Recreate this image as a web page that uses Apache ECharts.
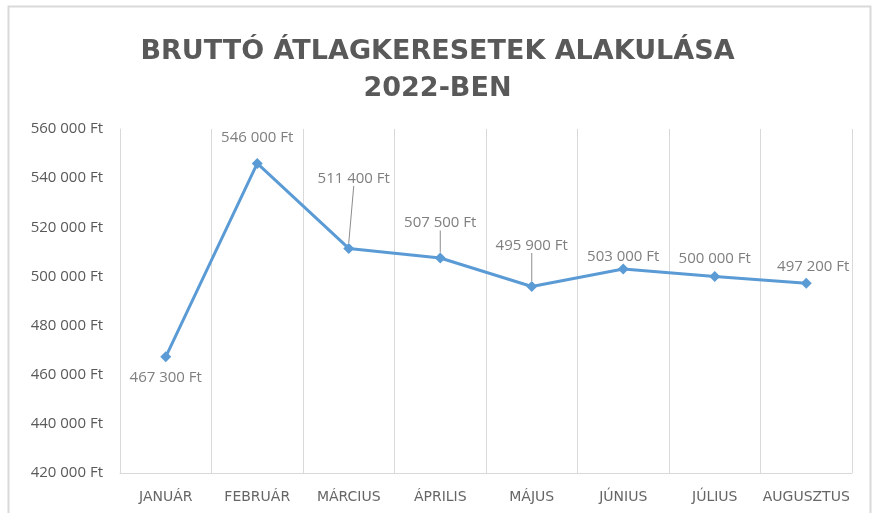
<!DOCTYPE html>
<html>
<head>
<meta charset="utf-8">
<script src="https://cdn.jsdelivr.net/npm/echarts@6/dist/echarts.min.js"></script>
<style>
  html, body { margin: 0; padding: 0; background: #fff; }
  #chart { width: 875px; height: 513px; }
</style>
</head>
<body>
<div id="chart"></div>
<script>
// adatok
const months = ['JANUÁR', 'FEBRUÁR', 'MÁRCIUS', 'ÁPRILIS', 'MÁJUS', 'JÚNIUS', 'JÚLIUS', 'AUGUSZTUS'];
const salaries = [467300, 546000, 511400, 507500, 495900, 503000, 500000, 497200];
// label shift from the point (dx, dy) and whether a leader line is drawn
const labelShift = [[0, 21], [0, -26], [5, -70], [0, -35], [0, -41], [0, -12], [0, -18], [7, -17]];
const leader = [false, false, true, true, true, false, false, false];

const fmt = v => String(v).replace(/\B(?=(\d{3})+(?!\d))/g, ' ') + ' Ft';

const chart = echarts.init(document.getElementById('chart'));

const option = {
    animation: false,
    backgroundColor: '#fff',
    title: {
        text: 'BRUTTÓ ÁTLAGKERESETEK ALAKULÁSA\n2022-BEN',
        left: 'center',
        top: 28,
        textStyle: {
            fontFamily: 'DejaVu Sans',
            fontWeight: 'bold',
            fontSize: 27,
            lineHeight: 37,
            color: '#595959'
        }
    },
    graphic: [{
        type: 'rect',
        shape: { x: 8.5, y: 6.5, width: 862, height: 520 },
        style: { fill: null, stroke: '#d9d9d9', lineWidth: 2 },
        silent: true
    }],
    grid: { left: 120, right: 23, top: 129, bottom: 40 },
    xAxis: {
        type: 'category',
        data: months,
        boundaryGap: true,
        axisLine: { lineStyle: { color: '#d9d9d9', width: 1 } },
        axisTick: { show: false },
        splitLine: { show: true, lineStyle: { color: '#d9d9d9', width: 1 } },
        axisLabel: {
            color: '#666666',
            fontFamily: 'DejaVu Sans',
            fontSize: 14,
            margin: 17,
            interval: 0
        }
    },
    yAxis: {
        type: 'value',
        min: 420000,
        max: 560000,
        interval: 20000,
        axisLine: { show: true, lineStyle: { color: '#d9d9d9', width: 1 } },
        axisTick: { show: false },
        splitLine: { show: false },
        axisLabel: {
            color: '#595959',
            fontFamily: 'Open Sans',
            fontSize: 15,
            margin: 17,
            formatter: fmt
        }
    },
    series: [{
        type: 'line',
        data: salaries.map((v, i) => ({
            value: v,
            labelLine: { show: leader[i] }
        })),
        symbol: 'diamond',
        symbolSize: 11,
        lineStyle: { color: '#5b9bd5', width: 3 },
        itemStyle: { color: '#5b9bd5' },
        label: {
            show: true,
            position: 'inside',
            color: '#7f7f7f',
            fontFamily: 'Open Sans',
            fontSize: 15,
            formatter: p => fmt(p.value)
        },
        labelLine: {
            show: true,
            lineStyle: { color: '#8c8c8c', width: 1 }
        },
        labelLayout: p => ({
            dx: labelShift[p.dataIndex][0],
            dy: labelShift[p.dataIndex][1]
        })
    }]
};

chart.setOption(option);
</script>
</body>
</html>
